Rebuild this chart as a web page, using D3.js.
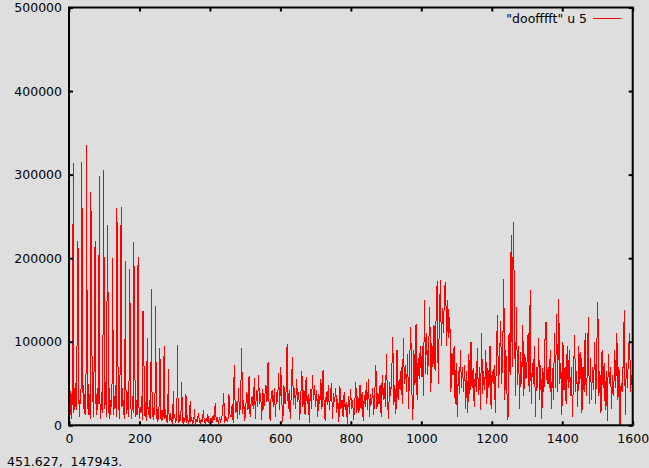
<!DOCTYPE html>
<html><head><meta charset="utf-8">
<script src="https://cdn.jsdelivr.net/npm/d3@7"></script>
<style>
html,body{margin:0;padding:0;background:#dedede;}
svg{display:block;}
text{font-family:"DejaVu Sans",sans-serif;font-size:12.5px;fill:#000;white-space:pre;}
</style></head>
<body><div id="chart"></div>
<script>
// Series "doofffft" u 5, values in thousands
// Segment A: x = 0..398, step 2
const segAStart = 0, segAStep = 2;
const segAValues = [
25,62,12,38,8,66,314,15,45,22,52,18,
221,209,30,10,42,25,315,196,20,48,14,35,
12,336,20,50,12,38,8,279,185,28,58,10,
115,221,32,12,45,18,55,298,25,8,40,15,
30,306,155,20,52,10,156,240,15,45,8,30,
22,40,200,12,35,20,48,10,260,135,18,40,
8,137,261,22,45,12,30,8,197,28,14,40,
10,25,187,118,20,8,35,15,219,115,25,10,
30,12,202,28,8,22,15,35,6,137,115,18,
10,28,5,105,20,12,30,8,18,163,10,25,
6,15,30,143,8,20,4,12,25,92,10,5,
18,6,14,95,8,20,4,12,3,67,10,5,
15,4,10,2,41,8,14,3,10,5,96,8,
3,12,5,18,52,6,2,10,4,8,37,3,
12,5,2,8,29,4,10,2,6,3,20,5,
2,8,4,10,15,3,6,2,8,4,12,18,
3,7,2,9,4,14,3,6
];
// Segment B: x = 400..1597, step 3
const segBStart = 400, segBStep = 3;
const segBValues = [
5,9,3,12,6,27,4,8,2,10,5,9,14,39,3,11,6,4,37,12,
10,25,3,72,15,28,8,45,12,26,92,14,30,5,24,40,18,59,10,28,
35,20,57,8,42,22,60,25,38,6,44,20,36,48,28,76,22,5,38,42,
22,45,10,40,28,62,18,70,30,4,48,25,40,97,20,42,8,38,82,24,
45,20,55,28,40,6,35,65,22,42,12,58,25,38,3,44,20,60,30,48,
22,42,10,38,26,55,20,66,28,5,40,24,48,18,36,50,8,38,28,45,
15,32,4,47,20,30,10,40,18,28,2,35,14,44,20,30,6,25,52,15,
35,15,48,20,40,5,36,22,52,18,55,10,38,25,45,12,40,72,20,38,
25,48,10,60,30,50,22,85,28,8,52,35,62,106,24,48,14,90,30,55,
42,70,25,105,50,72,40,85,20,78,118,44,6,90,48,121,30,80,55,95,
58,95,35,150,62,110,60,92,142,40,98,70,120,65,130,173,50,120,174,95,
140,110,165,172,95,150,105,130,40,87,60,95,25,75,10,65,38,90,45,70,
40,72,20,65,15,85,38,100,45,68,22,62,40,92,36,70,18,110,38,65,
42,90,25,68,45,95,20,65,50,72,15,80,132,45,75,125,50,85,175,30,
90,40,6,110,60,228,70,243,163,35,142,48,95,20,88,50,120,35,85,55,
75,110,40,162,25,75,50,95,10,70,45,105,30,72,8,68,40,102,124,50,
70,45,90,20,68,30,110,45,133,40,151,50,75,12,100,42,70,25,95,45,
90,35,70,10,60,108,40,65,22,95,50,88,15,70,40,110,35,62,130,25,
80,30,70,42,100,25,90,148,35,65,15,90,45,75,18,65,5,85,50,70,
20,60,35,90,45,110,30,70,0,50,40,75,138,12,75,45,85,110,40,60
];
const valueUnit = 1000;
const xTicks = [0,200,400,600,800,1000,1200,1400,1600];
const yTicks = [0,100000,200000,300000,400000,500000];
const legendLabel = "\"doofffft\" u 5";
const statusText = "451.627,  147943.";

const W = 649, H = 468;
const mLeft = 69, mRight = 632.7, mTop = 7.5, mBottom = 425.3;

const data = [];
segAValues.forEach((v,i)=>data.push([segAStart + i*segAStep, v*valueUnit]));
segBValues.forEach((v,i)=>data.push([segBStart + i*segBStep, v*valueUnit]));

const x = d3.scaleLinear().domain([0,1600]).range([mLeft,mRight]);
const y = d3.scaleLinear().domain([0,500000]).range([mBottom,mTop]);

const svg = d3.select("#chart").append("svg").attr("width",W).attr("height",H);
svg.append("rect").attr("width",W).attr("height",H).attr("fill","#dedede");

svg.append("defs").append("clipPath").attr("id","clip")
  .append("rect").attr("x",mLeft).attr("y",mTop).attr("width",mRight-mLeft).attr("height",mBottom-mTop);

svg.append("path").datum(data)
  .attr("clip-path","url(#clip)")
  .attr("fill","none").attr("stroke","#ff0000").attr("stroke-width",1)
  .attr("shape-rendering","crispEdges")
  .attr("d", d3.line().x(d=>x(d[0])).y(d=>y(d[1])));

function styleAxis(g){
  g.select(".domain").remove();
  g.selectAll(".tick line").attr("stroke","#000").attr("stroke-width",2);
  g.selectAll("text").attr("font-family","DejaVu Sans, sans-serif").attr("font-size","12.5px").attr("fill","#000");
}
svg.append("g").attr("transform",`translate(${mLeft},0)`)
  .call(d3.axisLeft(y).tickValues(yTicks).tickFormat(d3.format("d")).tickSizeInner(-4).tickSizeOuter(0).tickPadding(7))
  .call(styleAxis);
svg.append("g").attr("transform",`translate(${mRight},0)`)
  .call(d3.axisRight(y).tickValues(yTicks).tickFormat("").tickSizeInner(-4).tickSizeOuter(0))
  .call(styleAxis);
svg.append("g").attr("transform",`translate(0,${mBottom})`)
  .call(d3.axisBottom(x).tickValues(xTicks).tickFormat(d3.format("d")).tickSizeInner(-4).tickSizeOuter(0).tickPadding(9))
  .call(styleAxis);
svg.append("g").attr("transform",`translate(0,${mTop})`)
  .call(d3.axisTop(x).tickValues(xTicks).tickFormat("").tickSizeInner(-4).tickSizeOuter(0))
  .call(styleAxis);

svg.append("rect").attr("x",mLeft).attr("y",mTop).attr("width",mRight-mLeft).attr("height",mBottom-mTop)
  .attr("fill","none").attr("stroke","#000").attr("stroke-width",2);

// legend
svg.append("text").attr("x",587).attr("y",22.5).attr("text-anchor","end").text(legendLabel);
svg.append("line").attr("x1",593).attr("x2",621).attr("y1",18.5).attr("y2",18.5)
  .attr("stroke","#ff0000").attr("stroke-width",1).attr("shape-rendering","crispEdges");

svg.append("text").attr("x",7).attr("y",465.5).attr("xml:space","preserve").text(statusText);
</script></body></html>
